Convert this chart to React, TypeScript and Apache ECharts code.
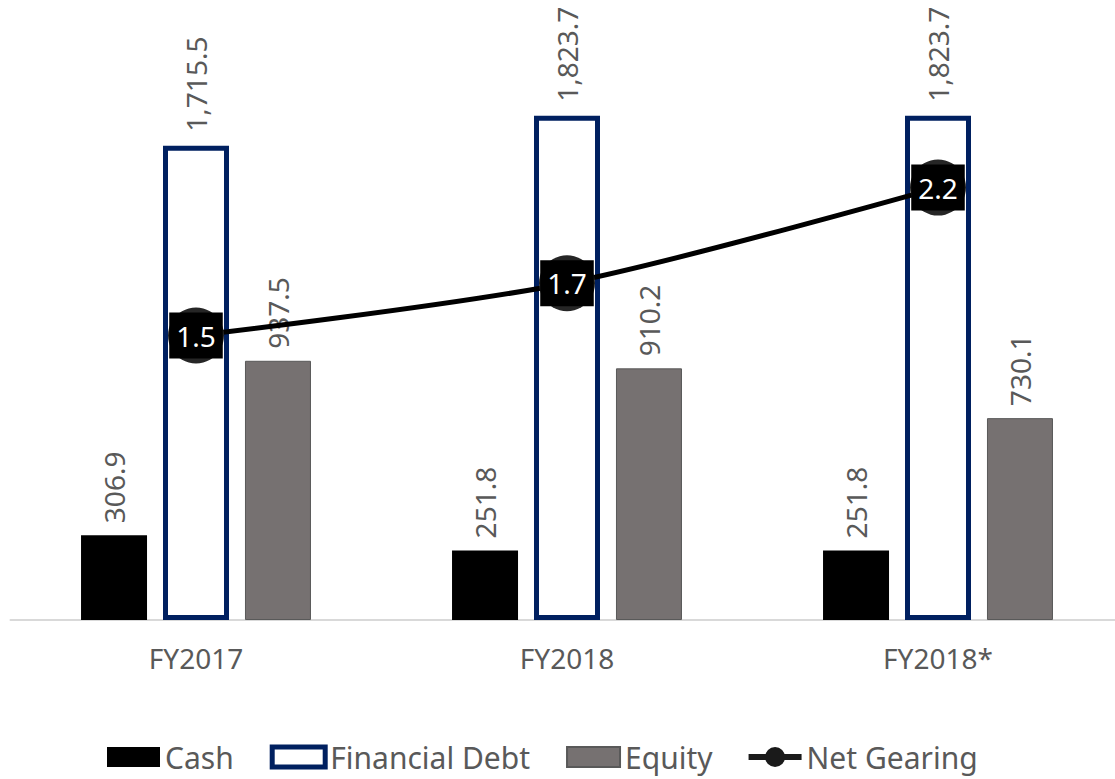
import React, { useEffect, useRef } from "react";
import * as echarts from "echarts";

const categories = ["FY2017", "FY2018", "FY2018*"];
const cash = [306.9, 251.8, 251.8];
const financialDebt = [1715.5, 1823.7, 1823.7];
const equity = [937.5, 910.2, 730.1];
const netGearing = [1.5, 1.73, 2.15];
const seriesNames = ["Cash", "Financial Debt", "Equity", "Net Gearing"];

export default function App() {
  const ref = useRef<HTMLDivElement>(null);
  useEffect(() => {
    document.body.style.margin = "0";
    const chart = echarts.init(ref.current!, null, { renderer: "svg" });
    const font = "Noto Sans";
    const fmt = (v: number) =>
      v.toLocaleString("en-US", { minimumFractionDigits: 1, maximumFractionDigits: 1 });
    const barLabel = {
      show: true,
      position: "top",
      rotate: 90,
      align: "left",
      verticalAlign: "middle",
      distance: 12,
      color: "#595959",
      fontSize: 28,
      fontFamily: font,
      formatter: (p: any) => fmt(p.value),
    };
    const gearIcon =
      "path://M0,7 H53 V13 H0 Z M26.5,0 A10,10 0 1,1 26.5,20 A10,10 0 1,1 26.5,0 Z";
    chart.setOption({
      animation: false,
      textStyle: { fontFamily: font },
      grid: { left: 10.5, top: 67, width: 1113, height: 553 },
      legend: {
        top: 737,
        left: 102,
        itemWidth: 53,
        itemHeight: 20,
        itemGap: 36,
        textStyle: { color: "#595959", fontSize: 30, fontFamily: font },
        data: [
          { name: seriesNames[0], icon: "rect" },
          { name: seriesNames[1], icon: "rect", itemStyle: { borderWidth: 5 } },
          { name: seriesNames[2], icon: "rect" },
          { name: seriesNames[3], icon: gearIcon, itemStyle: { color: "#1a1a1a" } },
        ],
      },
      xAxis: {
        type: "category",
        data: categories,
        axisLine: { lineStyle: { color: "#d9d9d9", width: 2 } },
        axisTick: { show: false },
        axisLabel: { color: "#595959", fontSize: 28, margin: 24, fontFamily: font },
      },
      yAxis: [
        { type: "value", min: 0, max: 2000, show: false, splitLine: { show: false } },
        { type: "value", min: 0.25, max: 2.68, show: false, splitLine: { show: false } },
      ],
      series: [
        {
          name: seriesNames[0],
          type: "bar",
          data: cash,
          barWidth: 66,
          barGap: "24.2%",
          itemStyle: { color: "#000000" },
          label: barLabel,
          z: 2,
        },
        {
          name: seriesNames[1],
          type: "bar",
          data: financialDebt,
          barWidth: 66,
          barGap: "24.2%",
          itemStyle: { color: "#ffffff", borderColor: "#002060", borderWidth: 5 },
          label: { ...barLabel, distance: 14 },
          z: 2,
        },
        {
          name: seriesNames[2],
          type: "bar",
          data: equity,
          barWidth: 66,
          barGap: "24.2%",
          itemStyle: { color: "#767171", borderColor: "#595959", borderWidth: 1 },
          label: barLabel,
          z: 2,
        },
        {
          name: seriesNames[3],
          type: "line",
          yAxisIndex: 1,
          data: netGearing,
          smooth: 0.3,
          symbol: "circle",
          symbolSize: 56,
          itemStyle: { color: "#262626" },
          lineStyle: { color: "#000000", width: 5 },
          z: 10,
          label: {
            show: true,
            position: "inside",
            backgroundColor: "#000000",
            color: "#ffffff",
            fontSize: 28,
            fontFamily: font,
            padding: [9, 7],
            formatter: (p: any) => (Math.round(p.value * 10 + 1e-9) / 10).toFixed(1),
          },
        },
      ],
    });
    return () => chart.dispose();
  }, []);
  return (
    <div style={{ width: 1115, height: 779, overflow: "hidden", position: "relative" }}>
      <div ref={ref} style={{ width: 1124, height: 779 }} />
    </div>
  );
}
